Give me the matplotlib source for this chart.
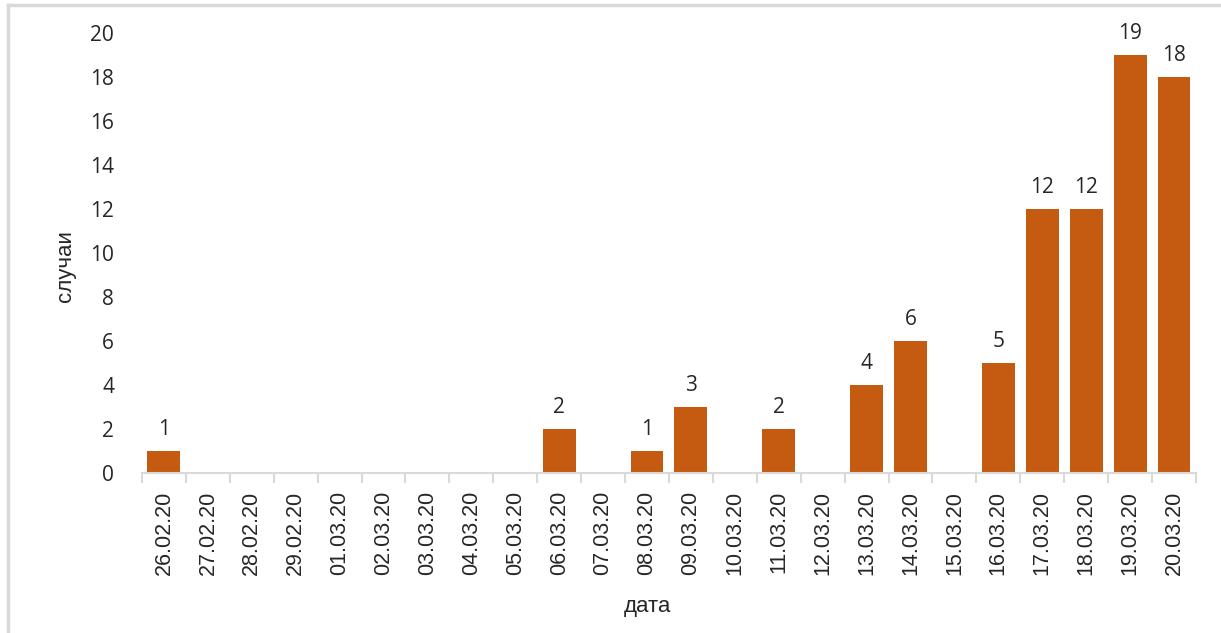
import matplotlib
matplotlib.use('Agg')
from matplotlib import pyplot as plt
from matplotlib.lines import Line2D

# data
dates = ['26.02.20', '27.02.20', '28.02.20', '29.02.20', '01.03.20', '02.03.20',
         '03.03.20', '04.03.20', '05.03.20', '06.03.20', '07.03.20', '08.03.20',
         '09.03.20', '10.03.20', '11.03.20', '12.03.20', '13.03.20', '14.03.20',
         '15.03.20', '16.03.20', '17.03.20', '18.03.20', '19.03.20', '20.03.20']
cases = [1, 0, 0, 0, 0, 0, 0, 0, 0, 2, 0, 1, 3, 0, 2, 0, 4, 6, 0, 5, 12, 12, 19, 18]
y_ticks = [0, 2, 4, 6, 8, 10, 12, 14, 16, 18, 20]

bar_color = '#C55A11'
text_color = '#262626'
grey = '#D9D9D9'

fig = plt.figure(figsize=(12.21, 6.33), dpi=100)
ax = fig.add_axes([0.1163, 0.2528, 0.9795 - 0.1163, 0.9479 - 0.2528])

x = list(range(len(dates)))
bars = ax.bar(x, cases, width=0.75, color=bar_color)

# value labels only for non-zero days
for xi, v in zip(x, cases):
    if v > 0:
        ax.text(xi, v + 0.5, str(v), ha='center', va='bottom',
                fontsize=15, family='Open Sans', color=text_color)

ax.set_xlim(-0.5, len(dates) - 0.5)
ax.set_ylim(0, 20)
ax.set_yticks(y_ticks)
ax.set_yticklabels([str(t) for t in y_ticks], family='Open Sans', fontsize=15,
                   color=text_color)

# category labels centred, ticks on the boundaries like Excel
ax.set_xticks(x)
ax.set_xticklabels(dates, rotation=90, fontsize=15.5,
                   family=['Liberation Sans Narrow', 'Liberation Sans'],
                   color=text_color)
ax.tick_params(axis='x', length=0, pad=13)
ax.set_xticks([i - 0.5 for i in range(len(dates) + 1)], minor=True)
ax.tick_params(axis='x', which='minor', length=7, color=grey, width=1.5)
ax.tick_params(axis='y', length=0, pad=20)

for side in ['top', 'right', 'left']:
    ax.spines[side].set_visible(False)
ax.spines['bottom'].set_color(grey)
ax.spines['bottom'].set_linewidth(1.5)

ax.set_ylabel('случаи', fontsize=16, family='Liberation Sans', color=text_color)
ax.yaxis.set_label_coords(-0.063, 0.47)
ax.set_xlabel('дата', fontsize=16, family='Liberation Sans', color=text_color)
ax.xaxis.set_label_coords(0.48, -0.28)

# light frame on the left and top edges of the picture
fig.add_artist(Line2D([8 / 1221, 8 / 1221], [0, 1 - 5 / 633], color=grey, lw=2.5))
fig.add_artist(Line2D([8 / 1221, 1], [1 - 5 / 633, 1 - 5 / 633], color=grey, lw=2.5))

fig.savefig('out.png', dpi=100)
